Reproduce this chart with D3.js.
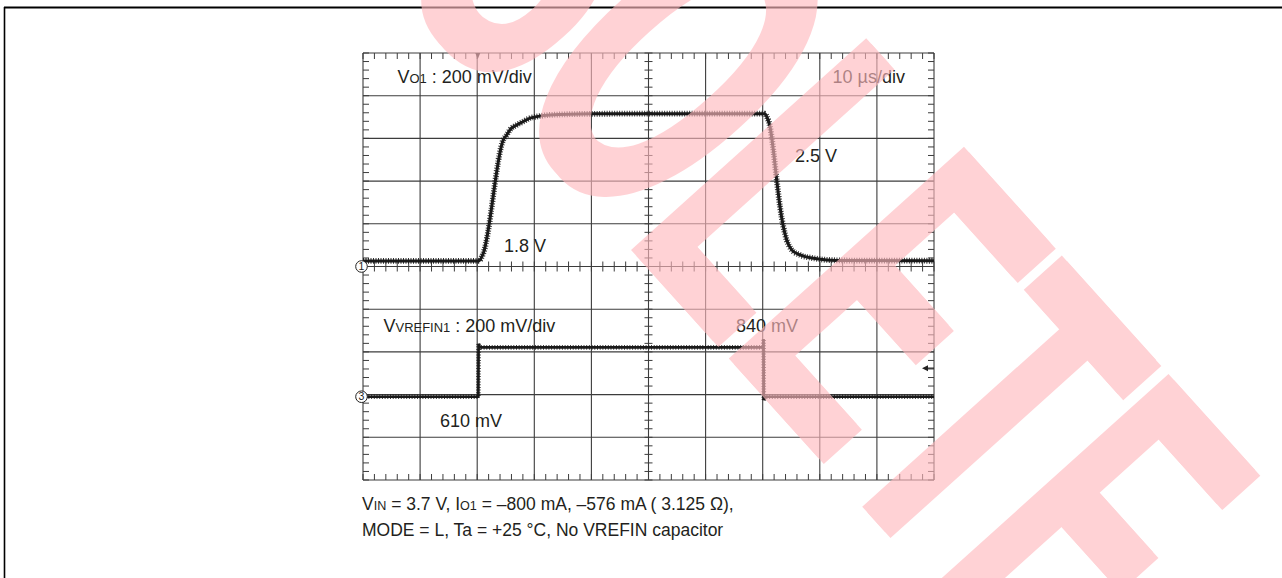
<!DOCTYPE html>
<html><head><meta charset="utf-8">
<script src="https://cdn.jsdelivr.net/npm/d3@7"></script>
<style>html,body{margin:0;padding:0;background:#fff;}svg{display:block;}</style>
</head><body>
<svg id="c" width="1282" height="578"></svg>
<script>
// ---- data read from the scope capture ----
// CH1: Vo1 (volts) vs time (µs), 200 mV/div, 10 µs/div
const ch1Time = [0, 20.3, 20.8, 21.07, 24.57, 25.17, 25.74, 26.92, 28.07, 29.25, 30.42, 32.75, 40, 50, 60, 70.4, 70.7, 71.28, 71.86, 72.45, 73.03, 73.61, 74.2, 75.08, 76.53, 78.86, 81.21, 84.71, 100];
const ch1Volt = [1.800, 1.800, 1.819, 1.836, 2.367, 2.390, 2.414, 2.437, 2.453, 2.469, 2.476, 2.484, 2.489, 2.490, 2.490, 2.490, 2.476, 2.429, 2.320, 2.180, 2.054, 1.961, 1.898, 1.852, 1.828, 1.813, 1.805, 1.802, 1.801];
// CH3: VREFIN1 (volts) vs time (µs), 200 mV/div
const ch3Time = [0, 20.2, 20.25, 20.45, 70.1, 70.15, 70.2, 70.4, 100];
const ch3Volt = [0.610, 0.610, 0.857, 0.841, 0.841, 0.880, 0.595, 0.610, 0.610];
// screen settings
const timeDomain = [0, 100];          // µs across 10 div
const ch1Domain = [0.774, 2.774];     // V across 10 div (200 mV/div)
const ch3Domain = [0.22, 2.22];       // V across 10 div (200 mV/div)
const divisions = d3.range(0, 11);
const minorDivs = d3.range(0, 51).map(k => k / 5);
const triggerTime = [20.1];
const triggerLevelCh3 = [0.744];
const ch1Marker = [1.774];
const ch3Marker = [0.61];
const watermarkText = "OBSOLETE";

const svg = d3.select("#c");
const FONT = "'Liberation Sans', Arial, Helvetica, sans-serif";
const plot = {left: 363, right: 934, top: 53, bottom: 480};

const x = d3.scaleLinear().domain(timeDomain).range([plot.left, plot.right]);
const y1 = d3.scaleLinear().domain(ch1Domain).range([plot.bottom, plot.top]);
const y3 = d3.scaleLinear().domain(ch3Domain).range([plot.bottom, plot.top]);
const dx = d3.scaleLinear().domain([0, 10]).range([plot.left, plot.right]);
const dy = d3.scaleLinear().domain([0, 10]).range([plot.bottom, plot.top]);

// page frame
svg.append("line").attr("x1", 4).attr("x2", 1282).attr("y1", 7.5).attr("y2", 7.5).attr("stroke", "#000").attr("stroke-width", 2);
svg.append("line").attr("x1", 4.5).attr("x2", 4.5).attr("y1", 7).attr("y2", 578).attr("stroke", "#000").attr("stroke-width", 1.6);

// grid
const g = svg.append("g");
const gridColor = "#3c3c3c";
g.selectAll("line.v").data(divisions).join("line").attr("class", "v")
  .attr("x1", d => dx(d)).attr("x2", d => dx(d)).attr("y1", plot.top).attr("y2", plot.bottom)
  .attr("stroke", gridColor).attr("stroke-width", 1.1);
g.selectAll("line.h").data(divisions).join("line").attr("class", "h")
  .attr("y1", d => dy(d)).attr("y2", d => dy(d)).attr("x1", plot.left).attr("x2", plot.right)
  .attr("stroke", gridColor).attr("stroke-width", 1.1);

// minor ticks
function ticksH(yPos, up, down) {
  g.append("g").selectAll("line").data(minorDivs).join("line")
    .attr("x1", d => dx(d)).attr("x2", d => dx(d)).attr("y1", yPos - up).attr("y2", yPos + down)
    .attr("stroke", gridColor).attr("stroke-width", 1);
}
function ticksV(xPos, left, right) {
  g.append("g").selectAll("line").data(minorDivs).join("line")
    .attr("y1", d => dy(d)).attr("y2", d => dy(d)).attr("x1", xPos - left).attr("x2", xPos + right)
    .attr("stroke", gridColor).attr("stroke-width", 1);
}
ticksH(plot.top, 0, 6);
ticksH(plot.bottom, 6, 0);
ticksH(dy(5), 5, 5);
ticksV(plot.left, 0, 6);
ticksV(plot.right, 6, 0);
ticksV(dx(5), 4, 4);

// trigger markers
const tx = x(triggerTime[0]);
svg.append("path").attr("d", `M${tx - 2.5},${plot.top} L${tx + 2.5},${plot.top} L${tx},${plot.top + 6} Z`).attr("fill", "#222");
const ty = y3(triggerLevelCh3[0]);
svg.append("path").attr("d", `M${plot.right - 12},${ty} L${plot.right - 6},${ty - 3} L${plot.right - 6},${ty + 3} Z`).attr("fill", "#222");
svg.append("line").attr("x1", plot.right - 7).attr("x2", plot.right).attr("y1", ty).attr("y2", ty).attr("stroke", "#222").attr("stroke-width", 1.2);

// traces
const line1 = d3.line().x((d, i) => x(ch1Time[i])).y(d => y1(d)).curve(d3.curveMonotoneX);
const line3 = d3.line().x((d, i) => x(ch3Time[i])).y(d => y3(d));
const traces = svg.append("g");
traces.append("path").attr("d", line1(ch1Volt)).attr("fill", "none").attr("stroke", "#1a1a1a").attr("stroke-width", 3).attr("stroke-linejoin", "round");
traces.append("path").attr("d", line1(ch1Volt)).attr("fill", "none").attr("stroke", "#1a1a1a").attr("stroke-width", 5.8).attr("stroke-dasharray", "1 1.5").attr("opacity", 0.9);
traces.append("path").attr("d", line3(ch3Volt)).attr("fill", "none").attr("stroke", "#1a1a1a").attr("stroke-width", 2.6);
traces.append("path").attr("d", line3(ch3Volt)).attr("fill", "none").attr("stroke", "#1a1a1a").attr("stroke-width", 4.6).attr("stroke-dasharray", "1 1.7").attr("opacity", 0.85);

// channel markers
function chMarker(yPos, label) {
  svg.append("circle").attr("cx", plot.left - 1.5).attr("cy", yPos).attr("r", 5.8).attr("fill", "#fff").attr("stroke", "#222").attr("stroke-width", 1);
  svg.append("text").attr("x", plot.left - 1.5).attr("y", yPos + 3.7).attr("text-anchor", "middle")
    .attr("font-family", FONT).attr("font-size", 10.5).attr("fill", "#222").text(label);
}
chMarker(y1(ch1Marker[0]), "1");
chMarker(y3(ch3Marker[0]), "3");

// labels
const textColor = "#231f20";
function label(xp, yp, parts, size) {
  const t = svg.append("text").attr("x", xp).attr("y", yp).attr("font-family", FONT).attr("font-size", size || 18).attr("fill", textColor);
  parts.forEach(p => {
    const s = t.append("tspan").text(p[0]);
    if (p[1]) s.attr("font-size", "0.72em");
  });
  return t;
}
label(397.5, 83, [["V"], ["O1", 1], [" : 200 mV/div"]]);
label(905, 83, [["10 µs/div"]]).attr("text-anchor", "end");
label(504, 252, [["1.8 V"]]);
label(795, 162, [["2.5 V"]]);
label(383.5, 332, [["V"], ["VREFIN1", 1], [" : 200 mV/div"]]);
label(736, 332, [["840 mV"]]);
label(440, 427, [["610 mV"]]);
label(362, 510, [["V"], ["IN", 1], [" = 3.7 V, I"], ["O1", 1], [" = \u2013800 mA, \u2013576 mA ( 3.125 \u03A9),"]], 17.5);
label(362, 536, [["MODE = L, Ta = +25 \u00B0C, No VREFIN capacitor"]], 17.5);

// watermark (condensed, rotated, translucent); a shifted <use> copy gives heavier stems
const F = 460;
const wmG = svg.append("g").attr("opacity", 0.63).attr("transform", "translate(632,251) rotate(48) scale(0.52,1)");
const wm = wmG.append("text").attr("id", "wmText").attr("font-family", FONT).attr("font-weight", "bold").attr("font-size", F)
  .attr("fill", "rgb(255,185,190)").text(watermarkText);
const adv = wm.node().getSubStringLength(0, 4);
wm.attr("x", -(adv + 0.073 * F)).attr("y", 0);
wmG.append("use").attr("href", "#wmText").attr("x", 15).attr("y", 0);
</script>
</body></html>
